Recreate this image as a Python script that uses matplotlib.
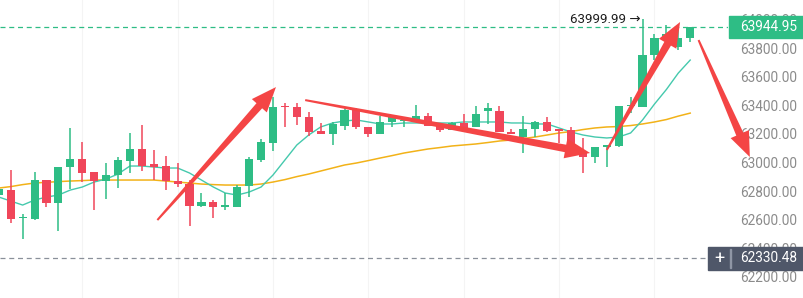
import matplotlib
matplotlib.use("Agg")
from matplotlib import pyplot as plt
from matplotlib.patches import Polygon, Rectangle
import numpy as np

plt.rcParams['font.family'] = ['Roboto', 'DejaVu Sans']

## candles (open, high, low, close)
opens = [62772, 62806, 62610, 62603, 62876, 62715, 62967, 63023, 62932, 62869,
         62911, 63009, 63093, 62988, 62974, 62869, 62848, 62694, 62722, 62687,
         62687, 62834, 63016, 63135, 63394, 63387, 63317, 63219, 63198, 63254,
         63366, 63247, 63198, 63282, 63289, 63296, 63324, 63261, 63226, 63275,
         63247, 63359, 63359, 63212, 63177, 63233, 63282, 63233, 63226, 63065,
         63037, 63107, 63114, 63394, 63387, 63751, 63870, 63807, 63870]
highs = [62830, 62946, 62640, 62932, 62880, 62970, 63240, 63142, 62935, 62995,
         63037, 63205, 63261, 63086, 63044, 62995, 62876, 62785, 62736, 62785,
         62841, 63037, 63163, 63457, 63415, 63415, 63352, 63275, 63282, 63380,
         63380, 63250, 63324, 63317, 63303, 63401, 63345, 63261, 63282, 63338,
         63394, 63415, 63394, 63233, 63324, 63289, 63317, 63233, 63247, 63170,
         63107, 63121, 63394, 63457, 63999.99, 63898, 63961, 63954, 63944.95]
lows = [62700, 62575, 62463, 62600, 62687, 62519, 62813, 62862, 62666, 62743,
        62820, 62925, 62939, 62876, 62806, 62827, 62554, 62687, 62610, 62666,
        62687, 62757, 63002, 63079, 63247, 63261, 63184, 63198, 63121, 63226,
        63233, 63177, 63198, 63247, 63247, 63282, 63254, 63212, 63226, 63240,
        63247, 63268, 63212, 63198, 63065, 63177, 63212, 63135, 63065, 62925,
        62995, 62967, 63107, 63345, 63387, 63716, 63830, 63786, 63842]
closes = [62814, 62603, 62617, 62876, 62715, 62967, 63023, 62925, 62869, 62911,
          63016, 63093, 62974, 62967, 62869, 62848, 62694, 62722, 62687, 62701,
          62827, 63023, 63142, 63387, 63387, 63317, 63212, 63198, 63268, 63366,
          63247, 63198, 63282, 63317, 63296, 63324, 63254, 63226, 63275, 63240,
          63338, 63380, 63212, 63198, 63233, 63282, 63219, 63219, 63065, 63037,
          63107, 63121, 63394, 63401, 63751, 63870, 63900, 63870, 63944.95]

## moving averages
ma_fast = [62758, 62730, 62702, 62737, 62758, 62772, 62807, 62828, 62863, 62884,
           62919, 62975, 62975, 62968, 62961, 62961, 62926, 62877, 62828, 62786,
           62772, 62793, 62828, 62912, 63017, 63122, 63192, 63248, 63276, 63290,
           63297, 63283, 63269, 63269, 63276, 63276, 63276, 63276, 63276, 63283,
           63283, 63283, 63283, 63276, 63276, 63269, 63269, 63241, 63213, 63192,
           63178, 63171, 63178, 63206, 63297, 63408, 63510, 63625, 63716]
ma_slow = [62821, 62831, 62845, 62856, 62861, 62866, 62870, 62873, 62877, 62877,
           62877, 62877, 62877, 62877, 62870, 62863, 62856, 62849, 62845, 62842,
           62842, 62842, 62849, 62863, 62880, 62901, 62919, 62940, 62961, 62982,
           62996, 63013, 63031, 63048, 63066, 63080, 63094, 63104, 63115, 63122,
           63129, 63139, 63150, 63157, 63167, 63178, 63192, 63206, 63216, 63230,
           63241, 63248, 63251, 63258, 63269, 63283, 63300, 63324, 63345]

price_ticks = [62200, 62400, 62600, 62800, 63000, 63200, 63400, 63600, 63800, 64000]
last_price = 63944.95
cross_price = 62330.48
high_label = '63999.99 →'
vgrid = [7, 15, 23, 31, 39, 47, 55]

# hand drawn arrows: (tail, tip) in (candle index, price)
arrows = [((13.3, 62597), (23.25, 63527)),
          ((25.7, 63436), (49.6, 63066)),
          ((51.0, 63087), (57.15, 63982)),
          ((58.7, 63856), (63.0, 63038))]

up_col = '#2ebd85'
down_col = '#f0465a'

fig = plt.figure(figsize=(8.04, 2.98), dpi=100)
ax = fig.add_axes([0, 0, 728 / 804, 1])
ax.set_xlim(0.1, 61.17)
ax.set_ylim(62052, 64136)
for s in ax.spines.values():
    s.set_visible(False)
ax.set_xticks([])

for g in vgrid:
    ax.axvline(g, color='#f4f4f4', lw=0.8, zorder=0)

x = np.arange(len(opens))
ax.plot(x, ma_slow, color='#f2b218', lw=1.1, zorder=2)
ax.plot(x, ma_fast, color='#45c9ad', lw=1.0, zorder=2)

for i in x:
    o, h, l, c = opens[i], highs[i], lows[i], closes[i]
    col = up_col if c >= o else down_col
    ax.vlines(i, l, h, color=col, lw=1.1, zorder=3)
    ax.bar(i, max(abs(c - o), 8), bottom=min(o, c), width=0.68, color=col, zorder=3)

ax.axhline(last_price, color=up_col, ls=(0, (4, 3)), lw=0.9, zorder=1)
ax.axhline(cross_price, xmin=0, xmax=708 / 728, color='#8a909a', ls=(0, (4, 3)), lw=0.9, zorder=1)

ax.text(53.8, 63999.99, high_label, ha='right', va='center', fontsize=9.6, color='#1e1e1e')

ax.yaxis.tick_right()
ax.set_yticks(price_ticks)
ax.set_yticklabels(['%.2f' % t for t in price_ticks])
ax.tick_params(axis='y', length=0, pad=49.5, labelsize=9.8, labelcolor='#8b8b8b')
for lab in ax.get_yticklabels():
    lab.set_horizontalalignment('right')

# price boxes
W, H = 804, 298
fig.add_artist(Rectangle((729 / W, 1 - 38 / H), 75 / W, 22 / H, transform=fig.transFigure,
                         color=up_col, zorder=4))
fig.text(797 / W, 1 - 27.3 / H, '%.2f' % last_price, ha='right', va='center',
         color='white', fontsize=9.8, zorder=5)
fig.add_artist(Rectangle((708 / W, 1 - 270 / H), 96 / W, 23 / H, transform=fig.transFigure,
                         color='#4f5769', zorder=4))
fig.add_artist(Rectangle((730.5 / W, 1 - 268 / H), 1 / W, 19 / H, transform=fig.transFigure,
                         color='#8f96a5', zorder=5))
fig.text(719 / W, 1 - 258.5 / H, '+', ha='center', va='center', color='white',
         fontsize=13, zorder=5)
fig.text(797 / W, 1 - 258.5 / H, '%.2f' % cross_price, ha='right', va='center',
         color='white', fontsize=9.8, zorder=5)

# arrows
inv = fig.transFigure.inverted()
for tail, tip in arrows:
    t0 = ax.transData.transform(tail)
    t1 = ax.transData.transform(tip)
    d = (t1 - t0) / np.hypot(*(t1 - t0))
    n = np.array([-d[1], d[0]])
    base = t1 - d * 25
    pts = [t0 + n * 1.0, base + n * 3.8, base + n * 10, t1,
           base - n * 10, base - n * 3.8, t0 - n * 1.0]
    fig.add_artist(Polygon(inv.transform(pts), closed=True, transform=fig.transFigure,
                           color='#f44545', zorder=6, lw=0))

fig.savefig('out.png', dpi=100)
